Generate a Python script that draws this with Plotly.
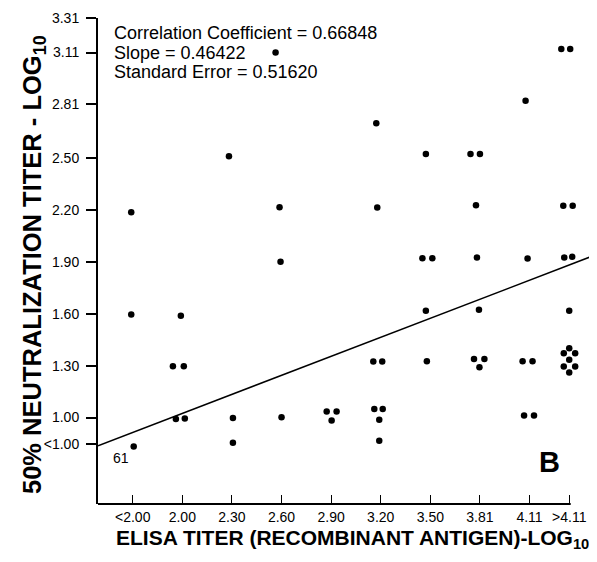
import plotly.graph_objects as go

# ---- axis categories / ticks ----
x_labels = ["<2.00", "2.00", "2.30", "2.60", "2.90", "3.20", "3.50", "3.81", "4.11", ">4.11"]
x_tickpos = [0, 1, 2, 3, 4, 5, 6, 7, 8, 8.8]
y_labels = ["<1.00", "1.00", "1.30", "1.60", "1.90", "2.20", "2.50", "2.81", "3.11", "3.31"]
y_tickpos = [0.846, 1.00, 1.30, 1.60, 1.90, 2.20, 2.50, 2.81, 3.11, 3.31]

# ---- data points (x in category-position units, y = neutralization titer) ----
pts_x = [
    -0.03, -0.03, 0.02,                                   # <2.00
    0.97, 0.81, 1.03, 0.87, 1.05,                         # 2.00
    1.94, 2.02, 2.02,                                     # 2.30
    2.88, 2.96, 2.98, 3.00,                               # 2.60
    3.91, 4.11, 4.01,                                     # 2.90
    4.91, 4.93, 4.85, 5.03, 4.87, 5.04, 4.97, 4.97,       # 3.20
    5.78, 5.96, 5.91, 5.84, 6.04, 5.91, 5.93,             # 3.50
    6.81, 7.00, 6.92, 6.94, 6.98, 6.88, 7.09, 6.99,       # 3.81
    7.92, 7.96, 7.86, 8.06, 7.89, 8.09,                   # 4.11
    8.64, 8.82, 8.68, 8.87, 8.70, 8.86, 8.80,             # >4.11
    8.80, 8.69, 8.92, 8.80, 8.69, 8.92, 8.80,
]
pts_y = [
    2.187, 1.595, 0.832,
    1.588, 1.297, 1.297, 0.992, 0.994,
    2.511, 0.997, 0.854,
    3.110, 2.216, 1.900, 1.002,
    1.035, 1.035, 0.983,
    2.702, 2.214, 1.324, 1.324, 1.050, 1.050, 0.987, 0.865,
    3.324, 3.324, 2.524, 1.921, 1.921, 1.618, 1.326,
    2.524, 2.524, 2.228, 1.925, 1.623, 1.339, 1.339, 1.291,
    2.831, 1.919, 1.326, 1.326, 1.012, 1.012,
    3.131, 3.131, 2.225, 2.225, 1.925, 1.929, 1.617,
    1.401, 1.371, 1.371, 1.334, 1.295, 1.295, 1.261,
]

# ---- regression line (in axis units) ----
reg_intercept = 0.914
reg_slope = 0.110

stats_lines = [
    "Correlation Coefficient = 0.66848",
    "Slope = 0.46422",
    "Standard Error = 0.51620",
]

x_range = [-0.70, 9.36]
y_range = [0.50, 3.31]
OFF = 8  # default page body margin
W, H = 597 - OFF, 562 - OFF
ML, MR, MT, MB = 98 - OFF, 0, 18 - OFF, 58
PW, PH = W - ML - MR, H - MT - MB

def px_to_paper_x(px):
    return (px - OFF - ML) / PW

def px_to_paper_y(py):
    return (H - MB - (py - OFF)) / PH

FONT = "Liberation Sans, Arial, Helvetica, sans-serif"

fig = go.Figure()

reg_x = list(x_range)
reg_y = [reg_intercept + reg_slope * v for v in reg_x]
fig.add_trace(go.Scatter(x=reg_x, y=reg_y, mode="lines",
                         line=dict(color="black", width=1.5),
                         hoverinfo="skip", showlegend=False))

fig.add_trace(go.Scatter(x=pts_x, y=pts_y, mode="markers",
                         marker=dict(color="black", size=6.5),
                         cliponaxis=False, showlegend=False))

# x axis baseline (ends at last tick)
fig.add_shape(type="line", xref="x", yref="paper",
              x0=x_range[0], x1=8.83, y0=0, y1=0,
              line=dict(color="black", width=2))

annotations = []
for i, (t, py) in enumerate(zip(stats_lines, [33, 53, 72])):
    annotations.append(dict(text=t, xref="paper", yref="paper",
                            x=px_to_paper_x(112), y=px_to_paper_y(py),
                            xanchor="left", yanchor="middle", showarrow=False,
                            font=dict(family=FONT, size=18, color="black")))
annotations.append(dict(text="61", xref="paper", yref="paper",
                        x=px_to_paper_x(120.5), y=px_to_paper_y(458),
                        xanchor="center", yanchor="middle", showarrow=False,
                        font=dict(family=FONT, size=14, color="black")))
annotations.append(dict(text="<b>B</b>", xref="paper", yref="paper",
                        x=px_to_paper_x(549), y=px_to_paper_y(462),
                        xanchor="center", yanchor="middle", showarrow=False,
                        font=dict(family=FONT, size=29, color="black")))
annotations.append(dict(text="<b>ELISA TITER (RECOMBINANT ANTIGEN)-LOG<sub>10</sub></b>",
                        xref="paper", yref="paper",
                        x=px_to_paper_x(352), y=px_to_paper_y(539),
                        xanchor="center", yanchor="middle", showarrow=False,
                        font=dict(family=FONT, size=21, color="black")))
annotations.append(dict(text="<b>50% NEUTRALIZATION TITER - LOG<sub>10</sub></b>",
                        xref="paper", yref="paper",
                        x=px_to_paper_x(34), y=px_to_paper_y(265),
                        xanchor="center", yanchor="middle", textangle=-90,
                        showarrow=False,
                        font=dict(family=FONT, size=25.5, color="black")))

fig.update_layout(
    width=W, height=H,
    margin=dict(l=ML, r=MR, t=MT, b=MB, pad=0, autoexpand=False),
    paper_bgcolor="white", plot_bgcolor="white",
    showlegend=False,
    annotations=annotations,
    font=dict(family=FONT, color="black"),
)
fig.update_xaxes(range=x_range, tickmode="array", tickvals=x_tickpos, ticktext=x_labels,
                 ticks="inside", ticklen=9, tickwidth=1.2, tickcolor="black",
                 showline=False, showgrid=False, zeroline=False, automargin=False,
                 tickfont=dict(family=FONT, size=14, color="black"),
                 ticklabelstandoff=3)
fig.update_yaxes(range=y_range, tickmode="array", tickvals=y_tickpos, ticktext=y_labels,
                 ticks="outside", ticklen=10, tickwidth=1.5, tickcolor="black",
                 showline=True, linewidth=2, linecolor="black", automargin=False,
                 showgrid=False, zeroline=False,
                 tickfont=dict(family=FONT, size=14, color="black"),
                 ticklabelstandoff=4)

fig.write_html("out.html")
